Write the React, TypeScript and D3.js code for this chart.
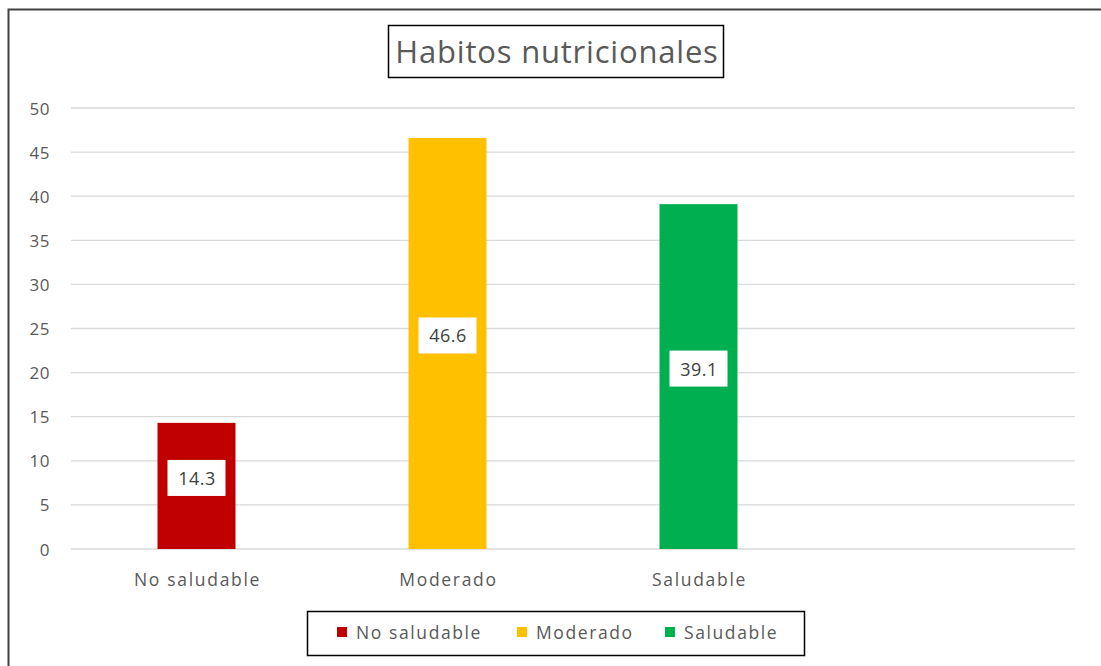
import React from "react";
import * as d3 from "d3";

const categories = ["No saludable", "Moderado", "Saludable", ""];
const values = [14.3, 46.6, 39.1];
const colors = ["#C00000", "#FFC000", "#00B050"];
const yTicks = [0, 5, 10, 15, 20, 25, 30, 35, 40, 45, 50];
const title = "Habitos nutricionales";

const W = 1101;
const H = 666;
const FONT = "'Open Sans', sans-serif";

export default function App() {
  const x = d3.scaleBand().domain(categories.map((c, i) => String(i))).range([71, 1075]).paddingInner(0).paddingOuter(0);
  const y = d3.scaleLinear().domain([0, 50]).range([549, 108]);
  const barW = 78;
  const legendItems = [
    { label: categories[0], color: colors[0], x: 337 },
    { label: categories[1], color: colors[1], x: 517 },
    { label: categories[2], color: colors[2], x: 665 },
  ];
  return (
    <svg width={W} height={H} style={{ position: "absolute", left: 0, top: 0, background: "#fff" }} fontFamily={FONT}>
      <rect x={0} y={0} width={W} height={H} fill="#fff" />
      <rect x={8.5} y={9.5} width={W + 20} height={H + 20} fill="none" stroke="#404040" strokeWidth={2} />
      {/* title */}
      <rect x={388.5} y={25.5} width={335} height={52} fill="#fff" stroke="#000" strokeWidth={1.5} />
      <text x={557} y={51} textAnchor="middle" dominantBaseline="central" fontSize={31} letterSpacing={0.8} fill="#595959">{title}</text>
      {/* grid */}
      {yTicks.map((t) => (
        <g key={t}>
          <line x1={71} x2={1075} y1={y(t)} y2={y(t)} stroke="#d9d9d9" strokeWidth={1.3} />
          <text x={50} y={y(t)} textAnchor="end" dominantBaseline="central" fontSize={17} letterSpacing={0.5} fill="#595959">{t}</text>
        </g>
      ))}
      {/* bars */}
      {values.map((v, i) => {
        const cx = (x(String(i)) as number) + x.bandwidth() / 2;
        const ly = y(v / 2) - 8;
        const lbl = v.toFixed(1);
        return (
          <g key={i}>
            <rect x={cx - barW / 2} y={y(v)} width={barW} height={y(0) - y(v)} fill={colors[i]} />
            <rect x={cx - 29} y={ly - 18} width={58} height={36} fill="#fff" />
            <text x={cx + 0.5} y={ly} textAnchor="middle" dominantBaseline="central" fontSize={18} letterSpacing={0.5} fill="#404040">{lbl}</text>
          </g>
        );
      })}
      {/* category labels */}
      {categories.map((c, i) => (
        <text key={i} x={(x(String(i)) as number) + x.bandwidth() / 2 + 1} y={579} textAnchor="middle" dominantBaseline="central" fontSize={17.5} letterSpacing={1.7} fill="#595959">{c}</text>
      ))}
      {/* legend */}
      <rect x={307.5} y={611.5} width={497} height={44} fill="#fff" stroke="#000" strokeWidth={1.5} />
      {legendItems.map((it, i) => (
        <g key={i}>
          <rect x={it.x} y={627} width={10} height={10} fill={it.color} />
          <text x={it.x + 19} y={632} dominantBaseline="central" fontSize={17.5} letterSpacing={1.6} fill="#595959">{it.label}</text>
        </g>
      ))}
    </svg>
  );
}
